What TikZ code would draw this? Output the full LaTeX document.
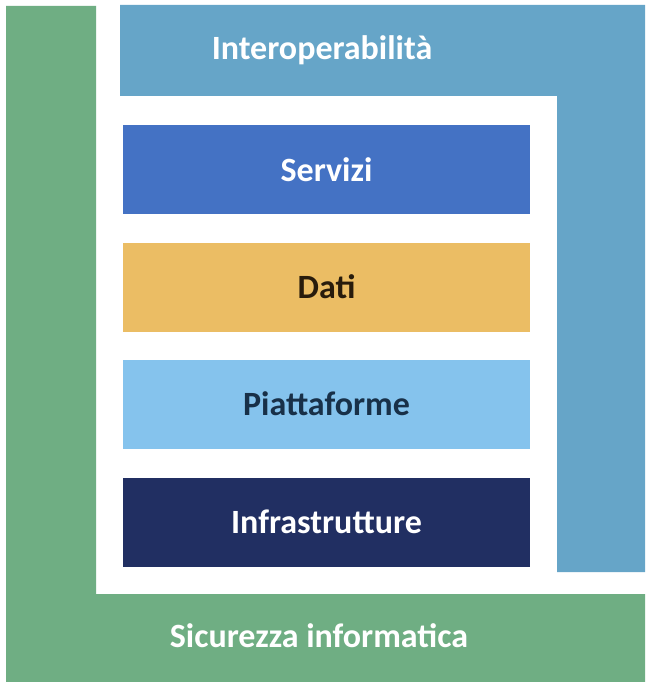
\documentclass[tikz,border=0pt]{standalone}
\usepackage{fontspec}
\setmainfont{Carlito}
\definecolor{sicgreen}{RGB}{111,174,131}
\definecolor{interblue}{RGB}{102,165,200}
\definecolor{servblue}{RGB}{68,114,196}
\definecolor{datiyellow}{RGB}{235,189,100}
\definecolor{piattblue}{RGB}{133,195,237}
\definecolor{infranavy}{RGB}{33,47,98}
\definecolor{datitext}{RGB}{40,28,12}
\definecolor{piatttext}{RGB}{24,48,72}
\begin{document}
\begin{tikzpicture}[x=1pt,y=-1pt]
\tikzstyle{layer} = [draw=none,inner sep=0,minimum width=407,minimum height=89,
						   font=\fontsize{34}{40}\selectfont\bfseries]
\tikzstyle{label} = [inner sep=0,text=white,font=\fontsize{34}{40}\selectfont\bfseries]
\fill [white] (0,0) rectangle (645,682);
\useasboundingbox (0,0) rectangle (645,682);
\fill [sicgreen] (6,6) -- (96,6) -- (96,594) -- (645,594) -- (645,682) -- (6,682) -- cycle;
\fill [interblue] (120,5) -- (645,5) -- (645,572) -- (557,572) -- (557,96) -- (120,96) -- cycle;
\node [layer, fill=servblue, text=white] (serv) at (326.5,169.5) {Servizi};
\node [layer, fill=datiyellow, text=datitext] (dati) at (326.5,287) {Dati};
\node [layer, fill=piattblue, text=piatttext] (piatt) at (326.5,404) {Piattaforme};
\node [layer, fill=infranavy, text=white] (infra) at (326.5,522) {Infrastrutture};
\node [label] (inter) at (322,50) {Interoperabilità};
\node [label] (sic) at (319,636) {Sicurezza informatica};
\end{tikzpicture}
\end{document}
